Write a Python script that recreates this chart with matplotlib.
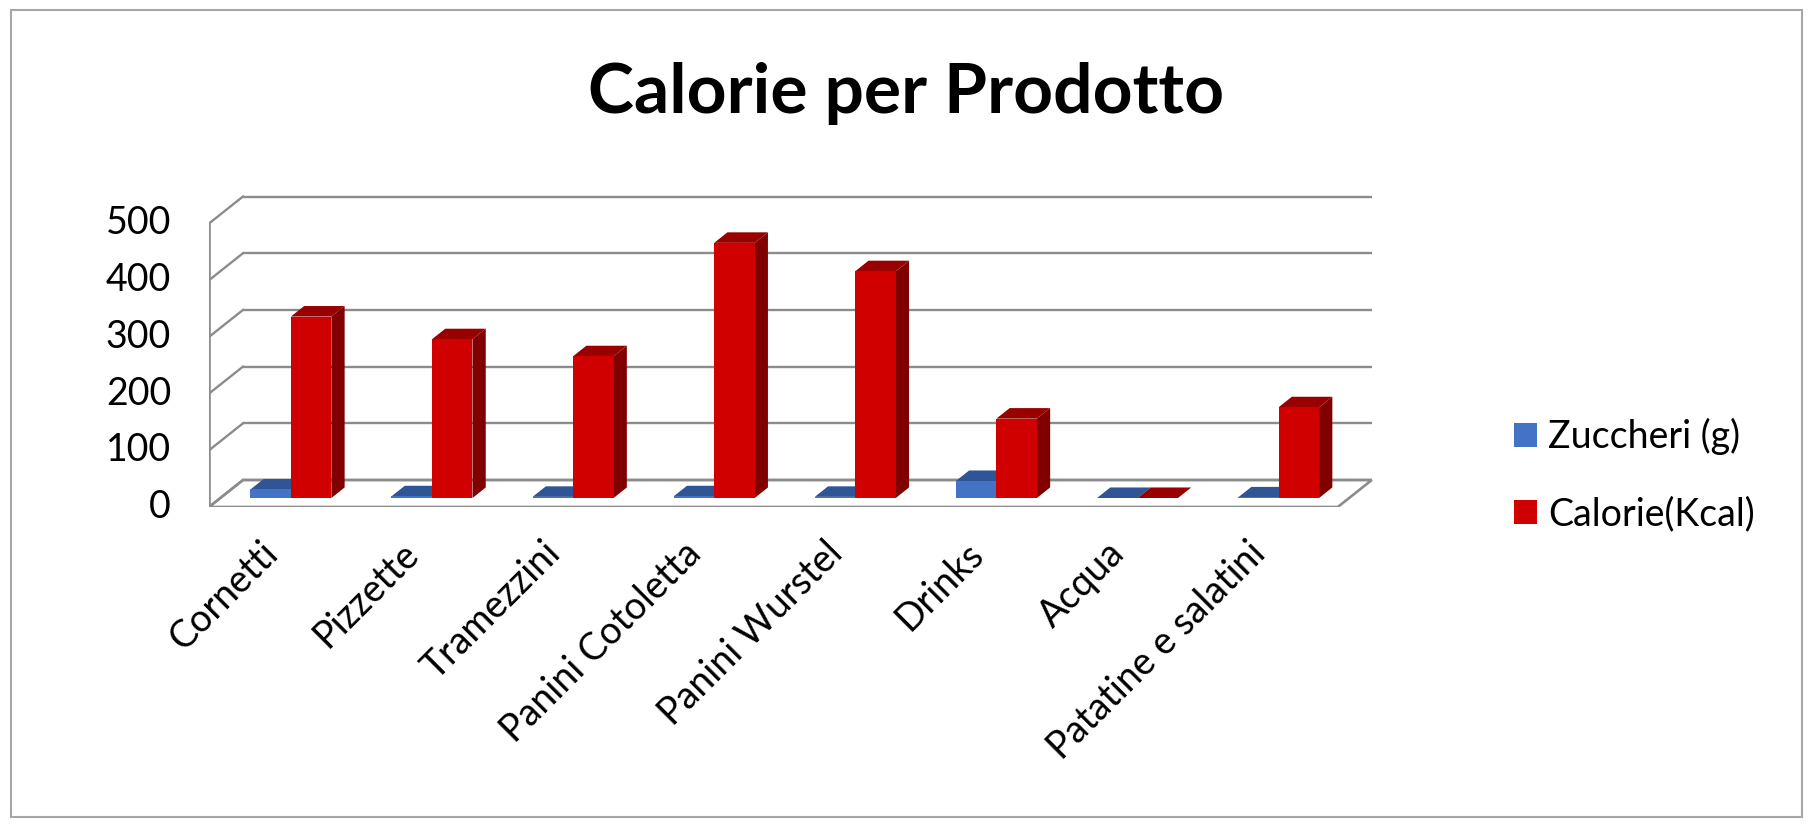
import matplotlib
matplotlib.use("Agg")
import matplotlib.pyplot as plt
from matplotlib.patches import Polygon, Rectangle, Patch
from matplotlib.transforms import ScaledTranslation

plt.rcParams['font.family'] = ['Lato', 'DejaVu Sans']

# dati
prodotti = ["Cornetti", "Pizzette", "Tramezzini", "Panini Cotoletta",
            "Panini Wurstel", "Drinks", "Acqua", "Patatine e salatini"]
zuccheri = [15, 3, 2, 3, 2, 30, 0, 1]
calorie = [320, 280, 250, 450, 400, 140, 0, 160]
serie = ["Zuccheri (g)", "Calorie(Kcal)"]
y_ticks = [0, 100, 200, 300, 400, 500]

# colori: fronte, lato, sopra
blu = ("#4472C4", "#27477F", "#2F5597")
rosso = ("#D00000", "#800000", "#990000")
griglia = "#8C8C8C"

W, H = 1812, 832
fig = plt.figure(figsize=(W / 100, H / 100), dpi=100)

# scala in pixel: 141.1 px per categoria, 0.567 px per unita
px_cat = 141.1
px_val = 0.567
xmax, ymax = 8.3, 560
ax = fig.add_axes([209 / W, (H - 507) / H, xmax * px_cat / W, ymax * px_val / H])
ax.set_xlim(0, xmax)
ax.set_ylim(0, ymax)
ax.axis("off")

# profondita (obliqua)
ddx = 34 / px_cat
ddy = 27 / px_val
n = len(prodotti)

# pavimento
ax.add_patch(Polygon([(0, 0), (n, 0), (n + ddx, ddy), (ddx, ddy)], closed=True,
                     facecolor="white", edgecolor=griglia, lw=1.9, zorder=1))
# griglia sul fondo + tacche diagonali
for v in y_ticks:
    ax.plot([ddx, n + ddx], [v + ddy, v + ddy], color=griglia, lw=1.7, zorder=1,
            solid_capstyle="butt")
    ax.plot([0, ddx], [v, v + ddy], color=griglia, lw=1.7, zorder=1)
ax.plot([0, 0], [0, y_ticks[-1]], color=griglia, lw=1.9, zorder=2)

# barre 3D
f0 = 1 / 3      # posizione della faccia anteriore nella profondita
d = 0.39        # spessore in profondita
w = 0.287       # larghezza barra
gap = (1 - 2 * w) / 2


def barra(x0, val, col):
    x0 = x0 + f0 * ddx
    y0 = f0 * ddy
    sx, sy = d * ddx, d * ddy
    top = y0 + val
    ax.add_patch(Polygon([(x0 + w, y0), (x0 + w + sx, y0 + sy), (x0 + w + sx, top + sy),
                          (x0 + w, top)], closed=True, facecolor=col[1], lw=0, zorder=3))
    ax.add_patch(Polygon([(x0, top), (x0 + w, top), (x0 + w + sx, top + sy),
                          (x0 + sx, top + sy)], closed=True, facecolor=col[2], lw=0, zorder=3))
    ax.add_patch(Rectangle((x0, y0), w, val, facecolor=col[0], lw=0, zorder=4))


for i in range(n):
    barra(i + gap, zuccheri[i], blu)
    barra(i + gap + w, calorie[i], rosso)

# etichette asse y
for v in y_ticks:
    ax.text(0, v, str(v), transform=ax.transData + ScaledTranslation(-38 / 100, 0, fig.dpi_scale_trans),
            ha="right", va="center", fontsize=27)

# etichette categorie
for i, p in enumerate(prodotti):
    ax.text(i + 0.5, 0, p, rotation=45, rotation_mode="anchor", ha="right", va="top",
            fontsize=27,
            transform=ax.transData + ScaledTranslation(-20 / 100, -28 / 100, fig.dpi_scale_trans))

# titolo
fig.text(906 / W, 1 - 113 / H, "Calorie per Prodotto", ha="center", va="baseline",
         fontsize=50, fontweight="bold")

# legenda
handles = [Patch(facecolor=blu[0]), Patch(facecolor=rosso[0])]
fig.legend(handles, serie, loc="upper left", bbox_to_anchor=(1514 / W, 1 - 418 / H),
           frameon=False, fontsize=27, handlelength=0.61, handleheight=0.61,
           handletextpad=0.3, labelspacing=1.1, borderpad=0, borderaxespad=0)

# cornice
fig.add_artist(Rectangle((11 / W, 1 - 817 / H), 1791 / W, 807 / H, transform=fig.transFigure,
                         fill=False, edgecolor="#A6A6A6", lw=1.5))

fig.savefig("out.png", dpi=100)
